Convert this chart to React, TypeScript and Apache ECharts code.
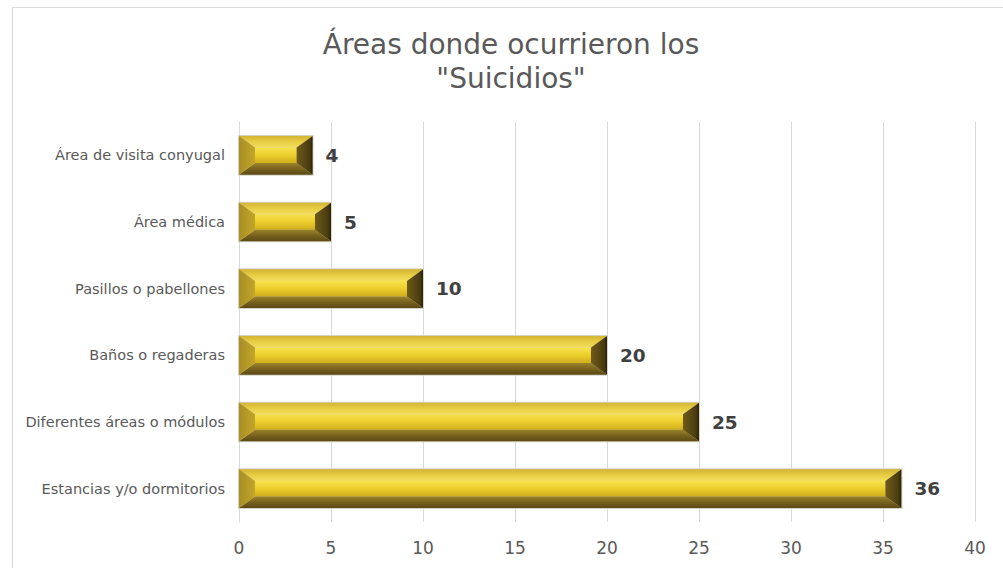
import React, { useEffect, useRef } from "react";
import * as echarts from "echarts";

const categories = [
  "Estancias y/o dormitorios",
  "Diferentes áreas o módulos",
  "Baños o regaderas",
  "Pasillos o pabellones",
  "Área médica",
  "Área de visita conyugal",
];
const values = [36, 25, 20, 10, 5, 4];
const titleText = 'Áreas donde ocurrieron los\n"Suicidios"';

const lg = (stops: [number, string][], vertical = true) =>
  new echarts.graphic.LinearGradient(0, 0, vertical ? 0 : 1, vertical ? 1 : 0,
    stops.map(([offset, color]) => ({ offset, color })));

export default function App() {
  const ref = useRef<HTMLDivElement>(null);
  useEffect(() => {
    if (!ref.current) return;
    const chart = echarts.init(ref.current, null, { renderer: "svg" });
    const data = values.map((v, i) => [v, i]);
    chart.setOption({
      animation: false,
      backgroundColor: "#ffffff",
      title: {
        text: titleText,
        left: 506,
        textAlign: "center",
        top: 22,
        textStyle: {
          fontFamily: "DejaVu Sans",
          fontSize: 28,
          fontWeight: "normal",
          color: "#595959",
          lineHeight: 34,
        },
      },
      graphic: [
        {
          type: "rect",
          shape: { x: 12.5, y: 7.5, width: 1100, height: 700 },
          style: { fill: "none", stroke: "#d9d9d9", lineWidth: 1 },
          silent: true,
          z: -1,
        },
      ],
      grid: { left: 239, right: 28, top: 122, bottom: 46 },
      xAxis: {
        type: "value",
        min: 0,
        max: 40,
        interval: 5,
        axisLine: { show: false },
        axisTick: { show: false },
        splitLine: { lineStyle: { color: "#d9d9d9", width: 1 } },
        axisLabel: { fontFamily: "DejaVu Sans", fontSize: 17, color: "#595959", margin: 17 },
      },
      yAxis: {
        type: "category",
        data: categories,
        axisLine: { show: true, lineStyle: { color: "#d9d9d9" } },
        axisTick: { show: false },
        axisLabel: { fontFamily: "DejaVu Sans", fontSize: 14.5, color: "#595959", margin: 14 },
      },
      series: [
        {
          type: "custom",
          encode: { x: 0, y: 1 },
          data,
          renderItem: (params: any, api: any) => {
            const v = api.value(0);
            const c = api.value(1);
            const end = api.coord([v, c]);
            const start = api.coord([0, c]);
            const h = api.size([0, 1])[1] * 0.58;
            const x0 = start[0];
            const x1 = end[0];
            const y0 = end[1] - h / 2;
            const y1 = end[1] + h / 2;
            const w = x1 - x0;
            const d = h * 0.3;
            const e = Math.min(16, w / 4);
            return {
              type: "group",
              children: [
                {
                  type: "rect",
                  shape: { x: x0 - 1, y: y0 - 1, width: w + 2, height: h + 2 },
                  style: { fill: "#d6d3c8" },
                },
                {
                  type: "rect",
                  shape: { x: x0 + e, y: y0 + d, width: w - 2 * e, height: h - 2 * d },
                  style: { fill: lg([[0, "#f7e24e"], [0.5, "#eccd2c"], [1, "#cfae1c"]]) },
                },
                {
                  type: "polygon",
                  shape: { points: [[x0, y0], [x1, y0], [x1 - e, y0 + d], [x0 + e, y0 + d]] },
                  style: { fill: lg([[0, "#d2b430"], [0.5, "#e8cd44"], [1, "#f3de5c"]]) },
                },
                {
                  type: "polygon",
                  shape: { points: [[x0 + e, y1 - d], [x1 - e, y1 - d], [x1, y1], [x0, y1]] },
                  style: { fill: lg([[0, "#9a8228"], [0.5, "#78621e"], [1, "#5a4914"]]) },
                },
                {
                  type: "polygon",
                  shape: { points: [[x0, y0], [x0 + e, y0 + d], [x0 + e, y1 - d], [x0, y1]] },
                  style: { fill: lg([[0, "#a88e22"], [1, "#c2a52a"]], false) },
                },
                {
                  type: "polygon",
                  shape: { points: [[x1, y0], [x1, y1], [x1 - e, y1 - d], [x1 - e, y0 + d]] },
                  style: { fill: lg([[0, "#6e5a18"], [0.8, "#4a3c10"], [1, "#2a220a"]], false) },
                },
                {
                  type: "text",
                  style: {
                    text: String(v),
                    x: x1 + 13,
                    y: end[1],
                    verticalAlign: "middle",
                    align: "left",
                    fontFamily: "DejaVu Sans",
                    fontSize: 18.5,
                    fontWeight: "bold",
                    fill: "#404040",
                  },
                },
              ],
            };
          },
        },
      ],
    });
    return () => chart.dispose();
  }, []);
  return <div ref={ref} style={{ width: 1003, height: 568, position: "absolute", left: 0, top: 0 }} />;
}
